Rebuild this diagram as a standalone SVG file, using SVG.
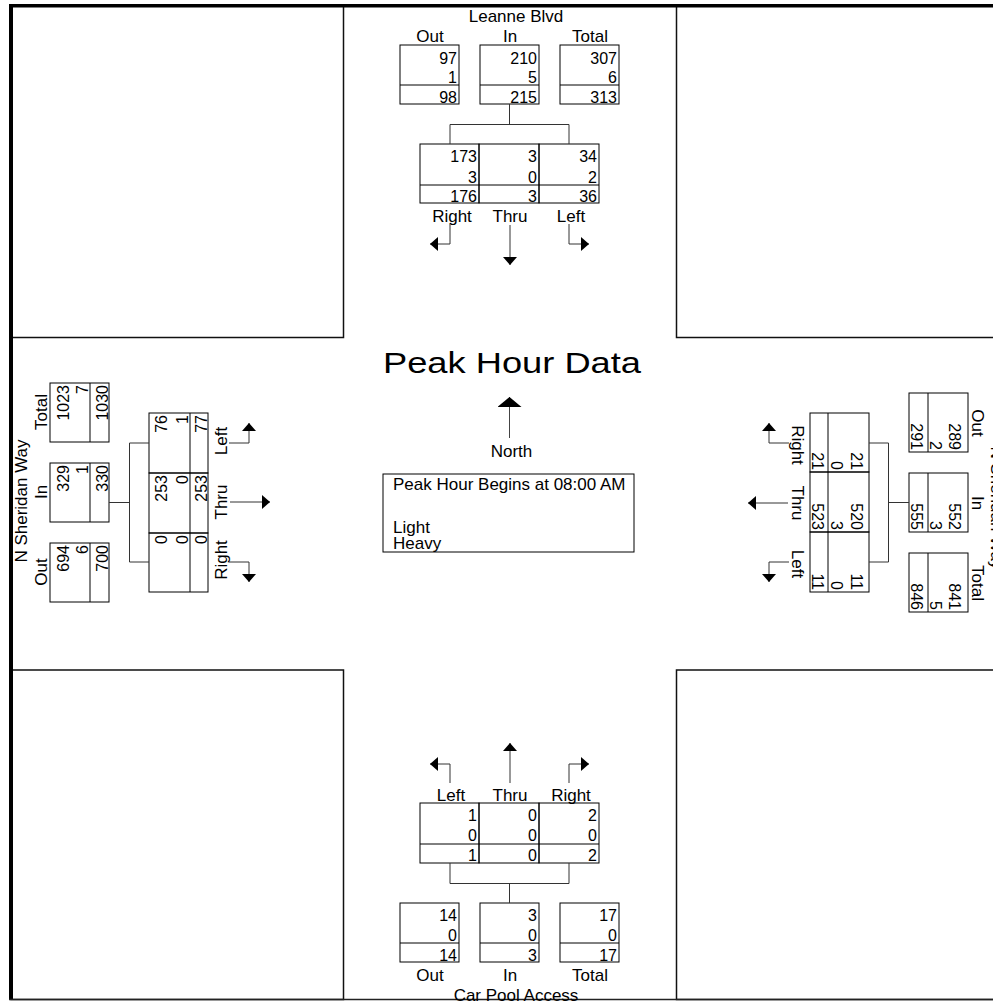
<svg xmlns="http://www.w3.org/2000/svg" width="993" height="1001" viewBox="0 0 993 1001">
<style>
text{font-family:"Liberation Sans",Arial,sans-serif;fill:#000}
.road,.hd{font-size:17px;text-anchor:middle}
.num{font-size:16px;text-anchor:end}
.info{font-size:17px}
.bx{fill:none;stroke:#000;stroke-width:1}
.q{fill:none;stroke:#111;stroke-width:1.5}
.conn{fill:none;stroke:#333;stroke-width:1}
.arr{fill:none;stroke:#333;stroke-width:1;marker-end:url(#ah)}
</style>
<defs>
<marker id="ah" markerUnits="userSpaceOnUse" markerWidth="9" markerHeight="15" refX="8" refY="7" orient="auto"><path d="M0,0 L8,7 L0,14 z" fill="#000"/></marker>
<marker id="ahn" markerUnits="userSpaceOnUse" markerWidth="11" markerHeight="24" refX="10" refY="12" orient="auto"><path d="M0,0 L10,12 L0,24 z" fill="#000"/></marker>
</defs>
<rect width="993" height="1001" fill="#fff"/>
<g id="frame">
<rect class="q" x="11" y="5.5" width="332.5" height="332"/>
<rect class="q" x="676.5" y="5.5" width="340" height="332"/>
<rect class="q" x="11" y="670" width="332.5" height="329.5"/>
<rect class="q" x="676.5" y="670" width="340" height="329.5"/>
<rect x="9" y="4" width="984" height="3.5" fill="#000"/>
<rect x="9" y="4" width="4" height="996" fill="#000"/>
<line x1="9" y1="999.5" x2="993" y2="999.5" stroke="#222" stroke-width="1.5"/>
</g>

<g id="center">
<text x="512" y="373" font-size="30" text-anchor="middle" textLength="258" lengthAdjust="spacingAndGlyphs">Peak Hour Data</text>
<text class="hd" x="511.5" y="456.5">North</text>
<g id="info-box">
<rect class="bx" x="383" y="474" width="251" height="78"/>
<text class="info" x="393" y="490">Peak Hour Begins at 08:00 AM</text>
<text class="info" x="393" y="533">Light</text>
<text class="info" x="393" y="549">Heavy</text>
</g>
</g>

<!-- NORTH -->
<g id="north">
<text class="road" x="516" y="22">Leanne Blvd</text>
<g id="n-out"><text class="hd" x="430" y="41.5">Out</text><rect class="bx" x="400" y="45" width="59" height="59"/><line class="bx" x1="400" y1="85" x2="459" y2="85"/><text class="num" x="457" y="64">97</text><text class="num" x="457" y="83">1</text><text class="num" x="457" y="102.5">98</text></g>
<g id="n-in"><text class="hd" x="510" y="41.5">In</text><rect class="bx" x="480" y="45" width="59" height="59"/><line class="bx" x1="480" y1="85" x2="539" y2="85"/><text class="num" x="537" y="64">210</text><text class="num" x="537" y="83">5</text><text class="num" x="537" y="102.5">215</text></g>
<g id="n-total"><text class="hd" x="590" y="41.5">Total</text><rect class="bx" x="560" y="45" width="59" height="59"/><line class="bx" x1="560" y1="85" x2="619" y2="85"/><text class="num" x="617" y="64">307</text><text class="num" x="617" y="83">6</text><text class="num" x="617" y="102.5">313</text></g>
<g id="n-right"><rect class="bx" x="420" y="144" width="59" height="59"/><line class="bx" x1="420" y1="185" x2="479" y2="185"/><text class="num" x="477" y="162">173</text><text class="num" x="477" y="182.5">3</text><text class="num" x="477" y="201.5">176</text><text class="hd" x="452" y="221.5">Right</text></g>
<g id="n-thru"><rect class="bx" x="479" y="144" width="60" height="59"/><line class="bx" x1="479" y1="185" x2="539" y2="185"/><text class="num" x="537" y="162">3</text><text class="num" x="537" y="182.5">0</text><text class="num" x="537" y="201.5">3</text><text class="hd" x="510" y="221.5">Thru</text></g>
<g id="n-left"><rect class="bx" x="539" y="144" width="60" height="59"/><line class="bx" x1="539" y1="185" x2="599" y2="185"/><text class="num" x="597" y="162">34</text><text class="num" x="597" y="182.5">2</text><text class="num" x="597" y="201.5">36</text><text class="hd" x="571" y="221.5">Left</text></g>
</g>

<!-- WEST -->
<g id="west">
<g transform="matrix(0,-1,1,0,5,1002)">
<text class="road" x="501" y="22">N Sheridan Way</text>
<g id="w-out"><text class="hd" x="430" y="41.5">Out</text><rect class="bx" x="400" y="45" width="59" height="59"/><line class="bx" x1="400" y1="85" x2="459" y2="85"/><text class="num" x="457" y="64">694</text><text class="num" x="457" y="83">6</text><text class="num" x="457" y="102.5">700</text></g>
<g id="w-in"><text class="hd" x="510" y="41.5">In</text><rect class="bx" x="480" y="45" width="59" height="59"/><line class="bx" x1="480" y1="85" x2="539" y2="85"/><text class="num" x="537" y="64">329</text><text class="num" x="537" y="83">1</text><text class="num" x="537" y="102.5">330</text></g>
<g id="w-total"><text class="hd" x="590" y="41.5">Total</text><rect class="bx" x="560" y="45" width="59" height="59"/><line class="bx" x1="560" y1="85" x2="619" y2="85"/><text class="num" x="617" y="64">1023</text><text class="num" x="617" y="83">7</text><text class="num" x="617" y="102.5">1030</text></g>
</g>
<g transform="matrix(0,-1,1,0,5,1012)">
<g id="w-right"><rect class="bx" x="420" y="144" width="59" height="59"/><line class="bx" x1="420" y1="185" x2="479" y2="185"/><text class="num" x="477" y="162">0</text><text class="num" x="477" y="182.5">0</text><text class="num" x="477" y="201.5">0</text><text class="hd" x="452" y="221.5">Right</text></g>
<g id="w-thru"><rect class="bx" x="479" y="144" width="60" height="59"/><line class="bx" x1="479" y1="185" x2="539" y2="185"/><text class="num" x="537" y="162">253</text><text class="num" x="537" y="182.5">0</text><text class="num" x="537" y="201.5">253</text><text class="hd" x="510" y="221.5">Thru</text></g>
<g id="w-left"><rect class="bx" x="539" y="144" width="60" height="59"/><line class="bx" x1="539" y1="185" x2="599" y2="185"/><text class="num" x="597" y="162">76</text><text class="num" x="597" y="182.5">1</text><text class="num" x="597" y="201.5">77</text><text class="hd" x="571" y="221.5">Left</text></g>
</g>
</g>

<!-- EAST -->
<g id="east">
<g transform="matrix(0,1,-1,0,1013,-7)">
<text class="road" x="515" y="22">N Sheridan Way</text>
<g id="e-out"><text class="hd" x="430" y="41.5">Out</text><rect class="bx" x="400" y="45" width="59" height="59"/><line class="bx" x1="400" y1="85" x2="459" y2="85"/><text class="num" x="457" y="64">289</text><text class="num" x="457" y="83">2</text><text class="num" x="457" y="102.5">291</text></g>
<g id="e-in"><text class="hd" x="510" y="41.5">In</text><rect class="bx" x="480" y="45" width="59" height="59"/><line class="bx" x1="480" y1="85" x2="539" y2="85"/><text class="num" x="537" y="64">552</text><text class="num" x="537" y="83">3</text><text class="num" x="537" y="102.5">555</text></g>
<g id="e-total"><text class="hd" x="590" y="41.5">Total</text><rect class="bx" x="560" y="45" width="59" height="59"/><line class="bx" x1="560" y1="85" x2="619" y2="85"/><text class="num" x="617" y="64">841</text><text class="num" x="617" y="83">5</text><text class="num" x="617" y="102.5">846</text></g>
<g id="e-right"><rect class="bx" x="420" y="144" width="59" height="59"/><line class="bx" x1="420" y1="185" x2="479" y2="185"/><text class="num" x="477" y="162">21</text><text class="num" x="477" y="182.5">0</text><text class="num" x="477" y="201.5">21</text><text class="hd" x="452" y="221.5">Right</text></g>
<g id="e-thru"><rect class="bx" x="479" y="144" width="60" height="59"/><line class="bx" x1="479" y1="185" x2="539" y2="185"/><text class="num" x="537" y="162">520</text><text class="num" x="537" y="182.5">3</text><text class="num" x="537" y="201.5">523</text><text class="hd" x="510" y="221.5">Thru</text></g>
<g id="e-left"><rect class="bx" x="539" y="144" width="60" height="59"/><line class="bx" x1="539" y1="185" x2="599" y2="185"/><text class="num" x="597" y="162">11</text><text class="num" x="597" y="182.5">0</text><text class="num" x="597" y="201.5">11</text><text class="hd" x="571" y="221.5">Left</text></g>
</g>
</g>

<!-- SOUTH -->
<g id="south">
<g id="s-left"><text class="hd" x="451" y="801">Left</text><rect class="bx" x="420" y="803" width="59" height="60"/><line class="bx" x1="420" y1="844" x2="479" y2="844"/><text class="num" x="477" y="821">1</text><text class="num" x="477" y="841">0</text><text class="num" x="477" y="861">1</text></g>
<g id="s-thru"><text class="hd" x="510" y="801">Thru</text><rect class="bx" x="479" y="803" width="60" height="60"/><line class="bx" x1="479" y1="844" x2="539" y2="844"/><text class="num" x="537" y="821">0</text><text class="num" x="537" y="841">0</text><text class="num" x="537" y="861">0</text></g>
<g id="s-right"><text class="hd" x="571" y="801">Right</text><rect class="bx" x="539" y="803" width="60" height="60"/><line class="bx" x1="539" y1="844" x2="599" y2="844"/><text class="num" x="597" y="821">2</text><text class="num" x="597" y="841">0</text><text class="num" x="597" y="861">2</text></g>
<g id="s-out"><rect class="bx" x="400" y="903" width="59" height="59"/><line class="bx" x1="400" y1="943" x2="459" y2="943"/><text class="num" x="457" y="921">14</text><text class="num" x="457" y="940.5">0</text><text class="num" x="457" y="960.5">14</text><text class="hd" x="430" y="981">Out</text></g>
<g id="s-in"><rect class="bx" x="480" y="903" width="59" height="59"/><line class="bx" x1="480" y1="943" x2="539" y2="943"/><text class="num" x="537" y="921">3</text><text class="num" x="537" y="940.5">0</text><text class="num" x="537" y="960.5">3</text><text class="hd" x="510" y="981">In</text></g>
<g id="s-total"><rect class="bx" x="560" y="903" width="59" height="59"/><line class="bx" x1="560" y1="943" x2="619" y2="943"/><text class="num" x="617" y="921">17</text><text class="num" x="617" y="940.5">0</text><text class="num" x="617" y="960.5">17</text><text class="hd" x="590" y="981">Total</text></g>
<text class="road" x="516" y="1001">Car Pool Access</text>
</g>

<g id="connectors">
<line x1="509.5" y1="438" x2="509.5" y2="397" stroke="#444" stroke-width="1" marker-end="url(#ahn)"/>
<g id="n-conn">
<path class="conn" d="M509.5,104 V124.5 M450,144 V124.5 H569 V144"/>
<path class="arr" d="M450,224 V244 H430"/>
<path class="arr" d="M510,225 V265"/>
<path class="arr" d="M569,224 V244 H589"/>
</g>
<g id="w-conn" transform="matrix(0,-1,1,0,5,1012)">
<path class="conn" d="M509.5,104 V124.5 M450,144 V124.5 H569 V144"/>
<path class="arr" d="M450,224 V244 H430"/>
<path class="arr" d="M510,225 V265"/>
<path class="arr" d="M569,224 V244 H589"/>
</g>
<g id="e-conn" transform="matrix(0,1,-1,0,1013,-7)">
<path class="conn" d="M509.5,104 V124.5 M450,144 V124.5 H569 V144"/>
<path class="arr" d="M450,224 V244 H430"/>
<path class="arr" d="M510,225 V265"/>
<path class="arr" d="M569,224 V244 H589"/>
</g>
<g id="s-conn">
<path class="conn" d="M450,863 V883.5 H569 V863 M509.5,883.5 V903"/>
<path class="arr" d="M450,783 V764 H430"/>
<path class="arr" d="M510,783 V743"/>
<path class="arr" d="M569,783 V764 H589"/>
</g>
</g>
</svg>
